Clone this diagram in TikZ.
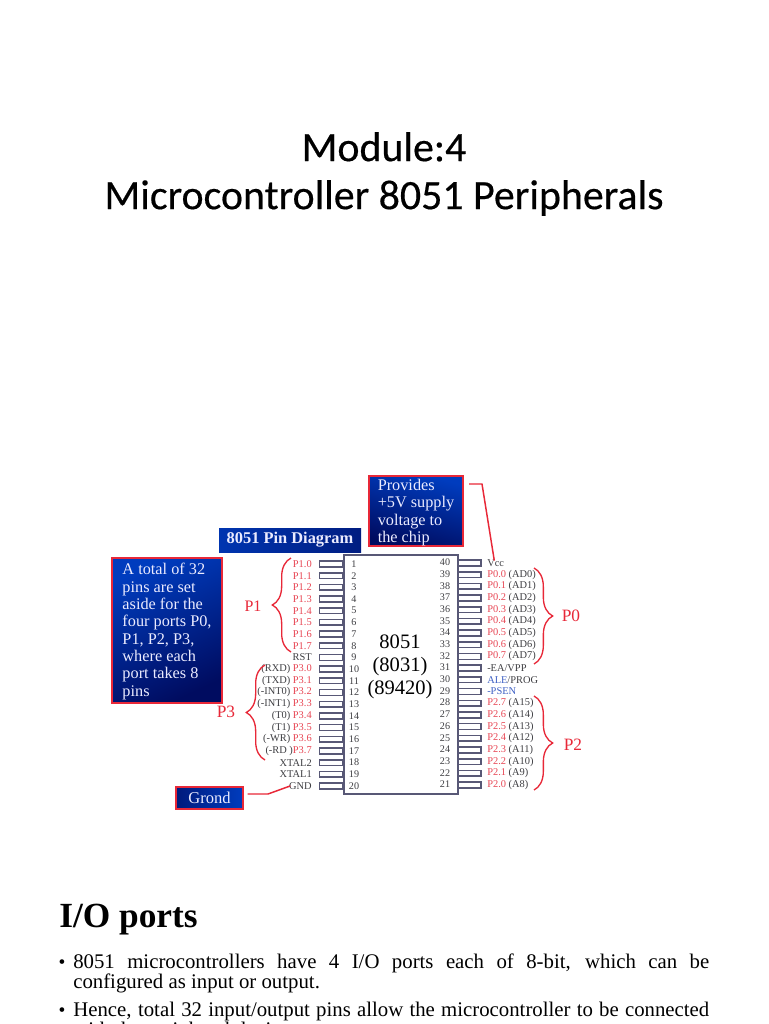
\documentclass[tikz,border=0pt]{standalone}
\usepackage{fontspec}
\setmainfont{Liberation Serif}
\newfontfamily\titlefont[FakeBold=0.4]{Carlito}
\usetikzlibrary{decorations.pathreplacing}
\definecolor{pinc}{RGB}{88,88,118}
\definecolor{redc}{RGB}{232,40,56}
\definecolor{lblred}{RGB}{232,70,84}
\definecolor{lblgrey}{RGB}{62,62,66}
\definecolor{lblblue}{RGB}{62,96,196}
\definecolor{bluehi}{RGB}{0,60,190}
\definecolor{bluelo}{RGB}{0,12,96}
\tikzset{
  x=0.75pt,y=-0.75pt,
  pinbox/.style={draw=pinc,line width=1.2pt,fill=white,minimum width=17pt,minimum height=4.3pt,inner sep=0pt,outer sep=0pt},
  pinnum/.style={font=\fontsize{7.6}{8}\selectfont,text=lblgrey,inner sep=0pt},
  lblleft/.style={font=\fontsize{7.8}{8}\selectfont,text=lblgrey,anchor=east,inner sep=0pt},
  lblright/.style={font=\fontsize{7.8}{8}\selectfont,text=lblgrey,anchor=west,inner sep=0pt},
  bluebox/.style={draw=redc,line width=1.2pt,inner sep=0pt,outer sep=0pt},
  boxtext/.style={text=white!92!blue,align=left,inner sep=0pt,font=\fontsize{12.2}{13}\selectfont},
  portname/.style={text=redc,inner sep=0pt},
  redline/.style={draw=redc,line width=1.1pt},
  bracestyle/.style={draw=redc,line width=1pt,decorate,decoration={brace,amplitude=14pt,aspect=0.5}},
  bodytext/.style={font=\fontsize{15.6}{15}\selectfont,text=black,anchor=north west,inner sep=0pt,text width=477pt,align=justify},
  bulletmark/.style={font=\fontsize{14.6}{15}\selectfont,inner sep=0pt,anchor=base},
}
\begin{document}
\begin{tikzpicture}
\useasboundingbox (0,0) rectangle (768,1024);
\fill[white] (0,0) rectangle (768,1024);
% title
\node[font=\titlefont\fontsize{31.4}{36}\selectfont,align=center,inner sep=0pt] (title) at (384,174) {Module:4\\Microcontroller 8051 Peripherals};
% chip
\node[draw=pinc,line width=1.5pt,minimum width=85.5pt,minimum height=179pt,inner sep=0pt,outer sep=0pt] (chip) at (400.5,674.5) {};
\node[font=\fontsize{15.4}{17.3}\selectfont,align=center,inner sep=0pt] (chipname) at (400,666.5) {8051\\(8031)\\(89420)};
% pins
\foreach \n/\lbl in {1/{\textcolor{lblred}{P1.0}},2/{\textcolor{lblred}{P1.1}},3/{\textcolor{lblred}{P1.2}},4/{\textcolor{lblred}{P1.3}},5/{\textcolor{lblred}{P1.4}},6/{\textcolor{lblred}{P1.5}},7/{\textcolor{lblred}{P1.6}},8/{\textcolor{lblred}{P1.7}},9/{RST},10/{(RXD) \textcolor{lblred}{P3.0}},11/{(TXD) \textcolor{lblred}{P3.1}},12/{(-INT0) \textcolor{lblred}{P3.2}},13/{(-INT1) \textcolor{lblred}{P3.3}},14/{(T0) \textcolor{lblred}{P3.4}},15/{(T1) \textcolor{lblred}{P3.5}},16/{(-WR) \textcolor{lblred}{P3.6}},17/{(-RD )\textcolor{lblred}{P3.7}},18/{XTAL2},19/{XTAL1},20/{GND}}{
  \pgfmathsetmacro{\yy}{564+(\n-1)*11.68}
  \node[pinbox] (pinL\n) at (331,\yy) {};
  \node[pinnum] (numL\n) at (354,\yy) {\n};
  \node[lblleft] (lblL\n) at (312,\yy) {\lbl};
}
\foreach \n/\lbl in {40/{Vcc},39/{\textcolor{lblred}{P0.0} (AD0)},38/{\textcolor{lblred}{P0.1} (AD1)},37/{\textcolor{lblred}{P0.2} (AD2)},36/{\textcolor{lblred}{P0.3} (AD3)},35/{\textcolor{lblred}{P0.4} (AD4)},34/{\textcolor{lblred}{P0.5} (AD5)},33/{\textcolor{lblred}{P0.6} (AD6)},32/{\textcolor{lblred}{P0.7} (AD7)},31/{-EA/VPP},30/{\textcolor{lblblue}{ALE}/PROG},29/{\textcolor{lblblue}{-PSEN}},28/{\textcolor{lblred}{P2.7} (A15)},27/{\textcolor{lblred}{P2.6} (A14)},26/{\textcolor{lblred}{P2.5} (A13)},25/{\textcolor{lblred}{P2.4} (A12)},24/{\textcolor{lblred}{P2.3} (A11)},23/{\textcolor{lblred}{P2.2} (A10)},22/{\textcolor{lblred}{P2.1} (A9)},21/{\textcolor{lblred}{P2.0} (A8)}}{
  \pgfmathsetmacro{\yy}{563+(40-\n)*11.68}
  \node[pinbox] (pinR\n) at (469.5,\yy) {};
  \node[pinnum] (numR\n) at (445,\yy-0.5) {\n};
  \node[lblright] (lblR\n) at (487,\yy) {\lbl};
}
% blue boxes
\node[bluebox,minimum width=106.5pt,minimum height=18pt,draw=none,left color=bluehi!85!bluelo,right color=bluelo!65!bluehi,align=center,text=white!92!blue,font=\bfseries\fontsize{12.3}{14}\selectfont] (pindiag) at (290,540) {8051 Pin Diagram};
\node[bluebox,minimum width=82.5pt,minimum height=108.5pt,top color=bluehi,bottom color=bluelo,shading angle=25] (totalbox) at (167,630.5) {};
\node[boxtext] (totaltext) at (167,631.5) {A total of 32\\pins are set\\aside for the\\four ports P0,\\P1, P2, P3,\\where each\\port takes 8\\pins};
\node[bluebox,minimum width=70.5pt,minimum height=52.5pt,top color=bluehi,bottom color=bluelo,shading angle=-15] (supply) at (416,511) {};
\node[boxtext] (supplytext) at (416,512.5) {Provides\\+5V supply\\voltage to\\the chip};
\node[bluebox,minimum width=50pt,minimum height=16.5pt,left color=bluelo!70!bluehi,right color=bluehi,align=center,text=white!92!blue,font=\fontsize{12.4}{13}\selectfont] (grond) at (209.5,798) {Grond};
% callout lines
\coordinate (bendV) at (482,484);
\coordinate (bendG) at (268,794);
\draw[redline] ([xshift=4.5pt]supply.east |- bendV) -- (bendV) -- ([xshift=-1pt,yshift=-1pt]lblR40.north);
\draw[redline] ([xshift=3.5pt]grond.east |- bendG) -- (bendG) -- ([xshift=1pt]lblL20.west);
% braces
\coordinate (p1a) at (291,558); \coordinate (p1b) at (291,652);
\coordinate (p3a) at (265,665); \coordinate (p3b) at (265,760);
\coordinate (p0a) at (534,568); \coordinate (p0b) at (534,664);
\coordinate (p2a) at (534,696); \coordinate (p2b) at (534,790);
\draw[bracestyle] (p1b) -- (p1a);
\draw[bracestyle] (p3b) -- (p3a);
\draw[bracestyle] (p0a) -- (p0b);
\draw[bracestyle] (p2a) -- (p2b);
\node[portname,font=\fontsize{12}{14}\selectfont] (pnameP1) at (253,606) {P1};
\node[portname,font=\fontsize{13}{14}\selectfont] (pnameP3) at (226,712) {P3};
\node[portname,font=\fontsize{13}{14}\selectfont] (pnameP0) at (571,616) {P0};
\node[portname,font=\fontsize{13}{14}\selectfont] (pnameP2) at (573,745) {P2};
% lower text
\node[font=\bfseries\fontsize{26.5}{30}\selectfont,anchor=base west,inner sep=0pt] (iohead) at (59,927) {I/O ports};
\node[bulletmark] (b1) at (62,968) {•};
\node[bodytext] (t1) at (73,953.5) {8051 microcontrollers have 4 I/O ports each of 8-bit, which can be\linebreak configured as input or output.};
\node[bulletmark] (b2) at (62,1016) {•};
\node[bodytext] (t2) at (73,1002) {Hence, total 32 input/output pins allow the microcontroller to be connected with the peripheral devices.};
\end{tikzpicture}
\end{document}
